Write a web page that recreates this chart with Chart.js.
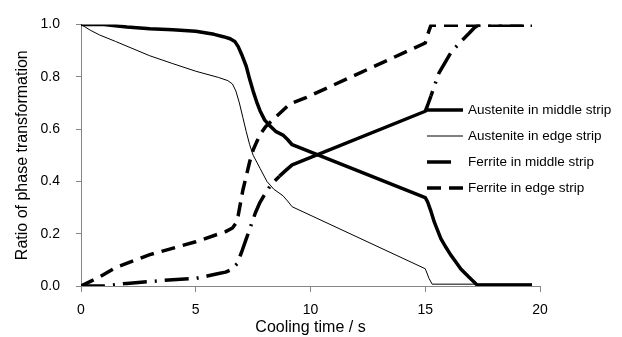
<!DOCTYPE html>
<html>
<head>
<meta charset="utf-8">
<script src="https://cdn.jsdelivr.net/npm/chart.js@4.4.1/dist/chart.umd.min.js"></script>
<style>
  html, body { margin: 0; padding: 0; background: #fff; }
  #wrap { width: 622px; height: 337px; }
</style>
</head>
<body>
<div id="wrap"><canvas id="phaseChart" width="622" height="337"></canvas></div>
<script>
// cooling time (s) and phase ratio for each curve
var austMidT = [0, 1, 2, 3, 4, 5, 5.8, 6.2, 6.5, 6.7, 6.85, 7.0, 7.2, 7.35, 7.5, 7.65, 7.8, 8.0, 8.2, 8.5, 8.8, 9.0, 9.2, 15, 15.1, 15.25, 15.4, 15.68, 15.9, 16.1, 16.35, 16.55, 16.9, 17.26, 19.65];
var austMidV = [1.0, 1.0, 0.99, 0.983, 0.98, 0.974, 0.962, 0.953, 0.945, 0.935, 0.915, 0.885, 0.84, 0.79, 0.745, 0.705, 0.67, 0.635, 0.615, 0.59, 0.577, 0.56, 0.54, 0.338, 0.322, 0.285, 0.243, 0.181, 0.148, 0.12, 0.09, 0.065, 0.034, 0.004, 0.004];

var austEdgeT = [0, 0.4, 0.8, 1.5, 3, 4, 5, 6, 6.4, 6.6, 6.75, 6.9, 7.05, 7.2, 7.35, 7.5, 7.8, 8.1, 8.4, 8.8, 9.0, 9.2, 15, 15.17, 15.3, 19.65];
var austEdgeV = [1.0, 0.978, 0.96, 0.935, 0.88, 0.85, 0.821, 0.797, 0.785, 0.772, 0.745, 0.7, 0.645, 0.59, 0.54, 0.5, 0.45, 0.4, 0.37, 0.345, 0.325, 0.303, 0.066, 0.028, 0.007, 0.007];

var ferMidT = [0, 1, 2, 3, 4, 5, 5.5, 6, 6.3, 6.55, 6.8, 7.0, 7.2, 7.4, 7.6, 7.8, 8.0, 8.3, 8.65, 8.9, 9.2, 15, 15.1, 15.25, 15.6, 16.1, 16.5, 16.9, 17.15, 17.3, 19.65];
var ferMidV = [0, 0, 0.01, 0.017, 0.024, 0.029, 0.038, 0.048, 0.053, 0.063, 0.085, 0.13, 0.18, 0.23, 0.28, 0.32, 0.35, 0.39, 0.42, 0.44, 0.463, 0.668, 0.69, 0.727, 0.815, 0.89, 0.93, 0.965, 0.988, 0.997, 0.997];

var ferEdgeT = [0, 0.8, 1.5, 3, 5, 6.3, 6.6, 6.75, 6.85, 7.05, 7.2, 7.35, 7.5, 7.65, 7.85, 8.05, 8.5, 9.1, 9.8, 15, 15.1, 15.25, 19.65];
var ferEdgeV = [0, 0.034, 0.07, 0.12, 0.169, 0.208, 0.222, 0.24, 0.27, 0.365, 0.42, 0.475, 0.52, 0.55, 0.585, 0.61, 0.647, 0.696, 0.72, 0.929, 0.96, 0.997, 0.997];

var seriesNames = ['Austenite in middle strip', 'Austenite in edge strip', 'Ferrite in middle strip', 'Ferrite in edge strip'];
var xTicks = [0, 5, 10, 15, 20];
var yTicks = [0, 0.2, 0.4, 0.6, 0.8, 1.0];

function pts(t, v) {
  return t.map(function (x, i) { return { x: x, y: v[i] }; });
}

var FONT = "Arial, 'Liberation Sans', sans-serif";
var AXIS_GREY = '#868686';
var DASH_DOT = [24, 8, 2, 8];

// the dash-dot curve is drawn solid on its straight middle run, as in the original
function ferMidDash(c) {
  var a = c.p0.parsed.x;
  return (a >= 8.65 && a < 15.25) ? [] : DASH_DOT;
}
function ferMidOffset(c) {
  return c.p0.parsed.x >= 15.25 ? 19 : 0;
}

// legend drawn inside the plot, on the right, like the original
var sideLegend = {
  id: 'sideLegend',
  afterDraw: function (chart) {
    var ctx = chart.ctx;
    ctx.save();
    chart.data.datasets.forEach(function (ds, i) {
      var y = 110 + i * 26;
      ctx.beginPath();
      ctx.lineWidth = ds.borderWidth;
      ctx.strokeStyle = ds.borderColor;
      ctx.setLineDash(ds.borderDash || []);
      ctx.lineCap = 'butt';
      ctx.moveTo(427, y);
      ctx.lineTo(ds.legendEnd || 463, y);
      ctx.stroke();
      ctx.setLineDash([]);
      ctx.fillStyle = '#000';
      ctx.font = '13.5px ' + FONT;
      ctx.textBaseline = 'middle';
      ctx.textAlign = 'left';
      ctx.fillText(ds.label, 468, y);
    });
    ctx.restore();
  }
};

new Chart(document.getElementById('phaseChart'), {
  type: 'line',
  data: {
    datasets: [
      { label: seriesNames[0], data: pts(austMidT, austMidV), borderColor: '#000', borderWidth: 3.5 },
      { label: seriesNames[1], data: pts(austEdgeT, austEdgeV), borderColor: '#000', borderWidth: 1 },
      { label: seriesNames[2], data: pts(ferMidT, ferMidV), borderColor: '#000', borderWidth: 3.5, borderDash: DASH_DOT, legendEnd: 452,
        segment: { borderDash: ferMidDash, borderDashOffset: ferMidOffset } },
      { label: seriesNames[3], data: pts(ferEdgeT, ferEdgeV), borderColor: '#000', borderWidth: 3.5, borderDash: [14, 8] }
    ]
  },
  options: {
    responsive: false,
    animation: false,
    layout: { padding: { left: 0, top: 14, right: 82, bottom: 0 } },
    elements: {
      point: { radius: 0 },
      line: { tension: 0, fill: false, borderJoinStyle: 'round' }
    },
    plugins: {
      legend: { display: false },
      tooltip: { enabled: false }
    },
    scales: {
      x: {
        type: 'linear',
        min: 0,
        max: 20,
        afterFit: function (s) { s.height = 51; },
        afterBuildTicks: function (s) { s.ticks = xTicks.map(function (v) { return { value: v }; }); },
        border: { color: AXIS_GREY, width: 1 },
        grid: { display: true, drawOnChartArea: false, drawTicks: true, tickLength: 6, color: AXIS_GREY },
        ticks: { color: '#000', padding: 10, maxRotation: 0, font: { family: FONT, size: 14 } },
        title: { display: true, text: 'Cooling time / s', color: '#000', padding: { top: 0, bottom: 0 }, font: { family: FONT, size: 16 } }
      },
      y: {
        type: 'linear',
        min: 0,
        max: 1,
        afterFit: function (s) { s.width = 81; },
        afterBuildTicks: function (s) { s.ticks = yTicks.map(function (v) { return { value: v }; }); },
        border: { color: AXIS_GREY, width: 1 },
        grid: { display: true, drawOnChartArea: false, drawTicks: true, tickLength: 5, color: AXIS_GREY },
        ticks: { color: '#000', padding: 16, font: { family: FONT, size: 14 }, callback: function (v) { return v.toFixed(1); } },
        title: { display: true, text: 'Ratio of phase transformation', color: '#000', padding: { top: 13, bottom: 0 }, font: { family: FONT, size: 16 } }
      }
    }
  },
  plugins: [sideLegend]
});
</script>
</body>
</html>
